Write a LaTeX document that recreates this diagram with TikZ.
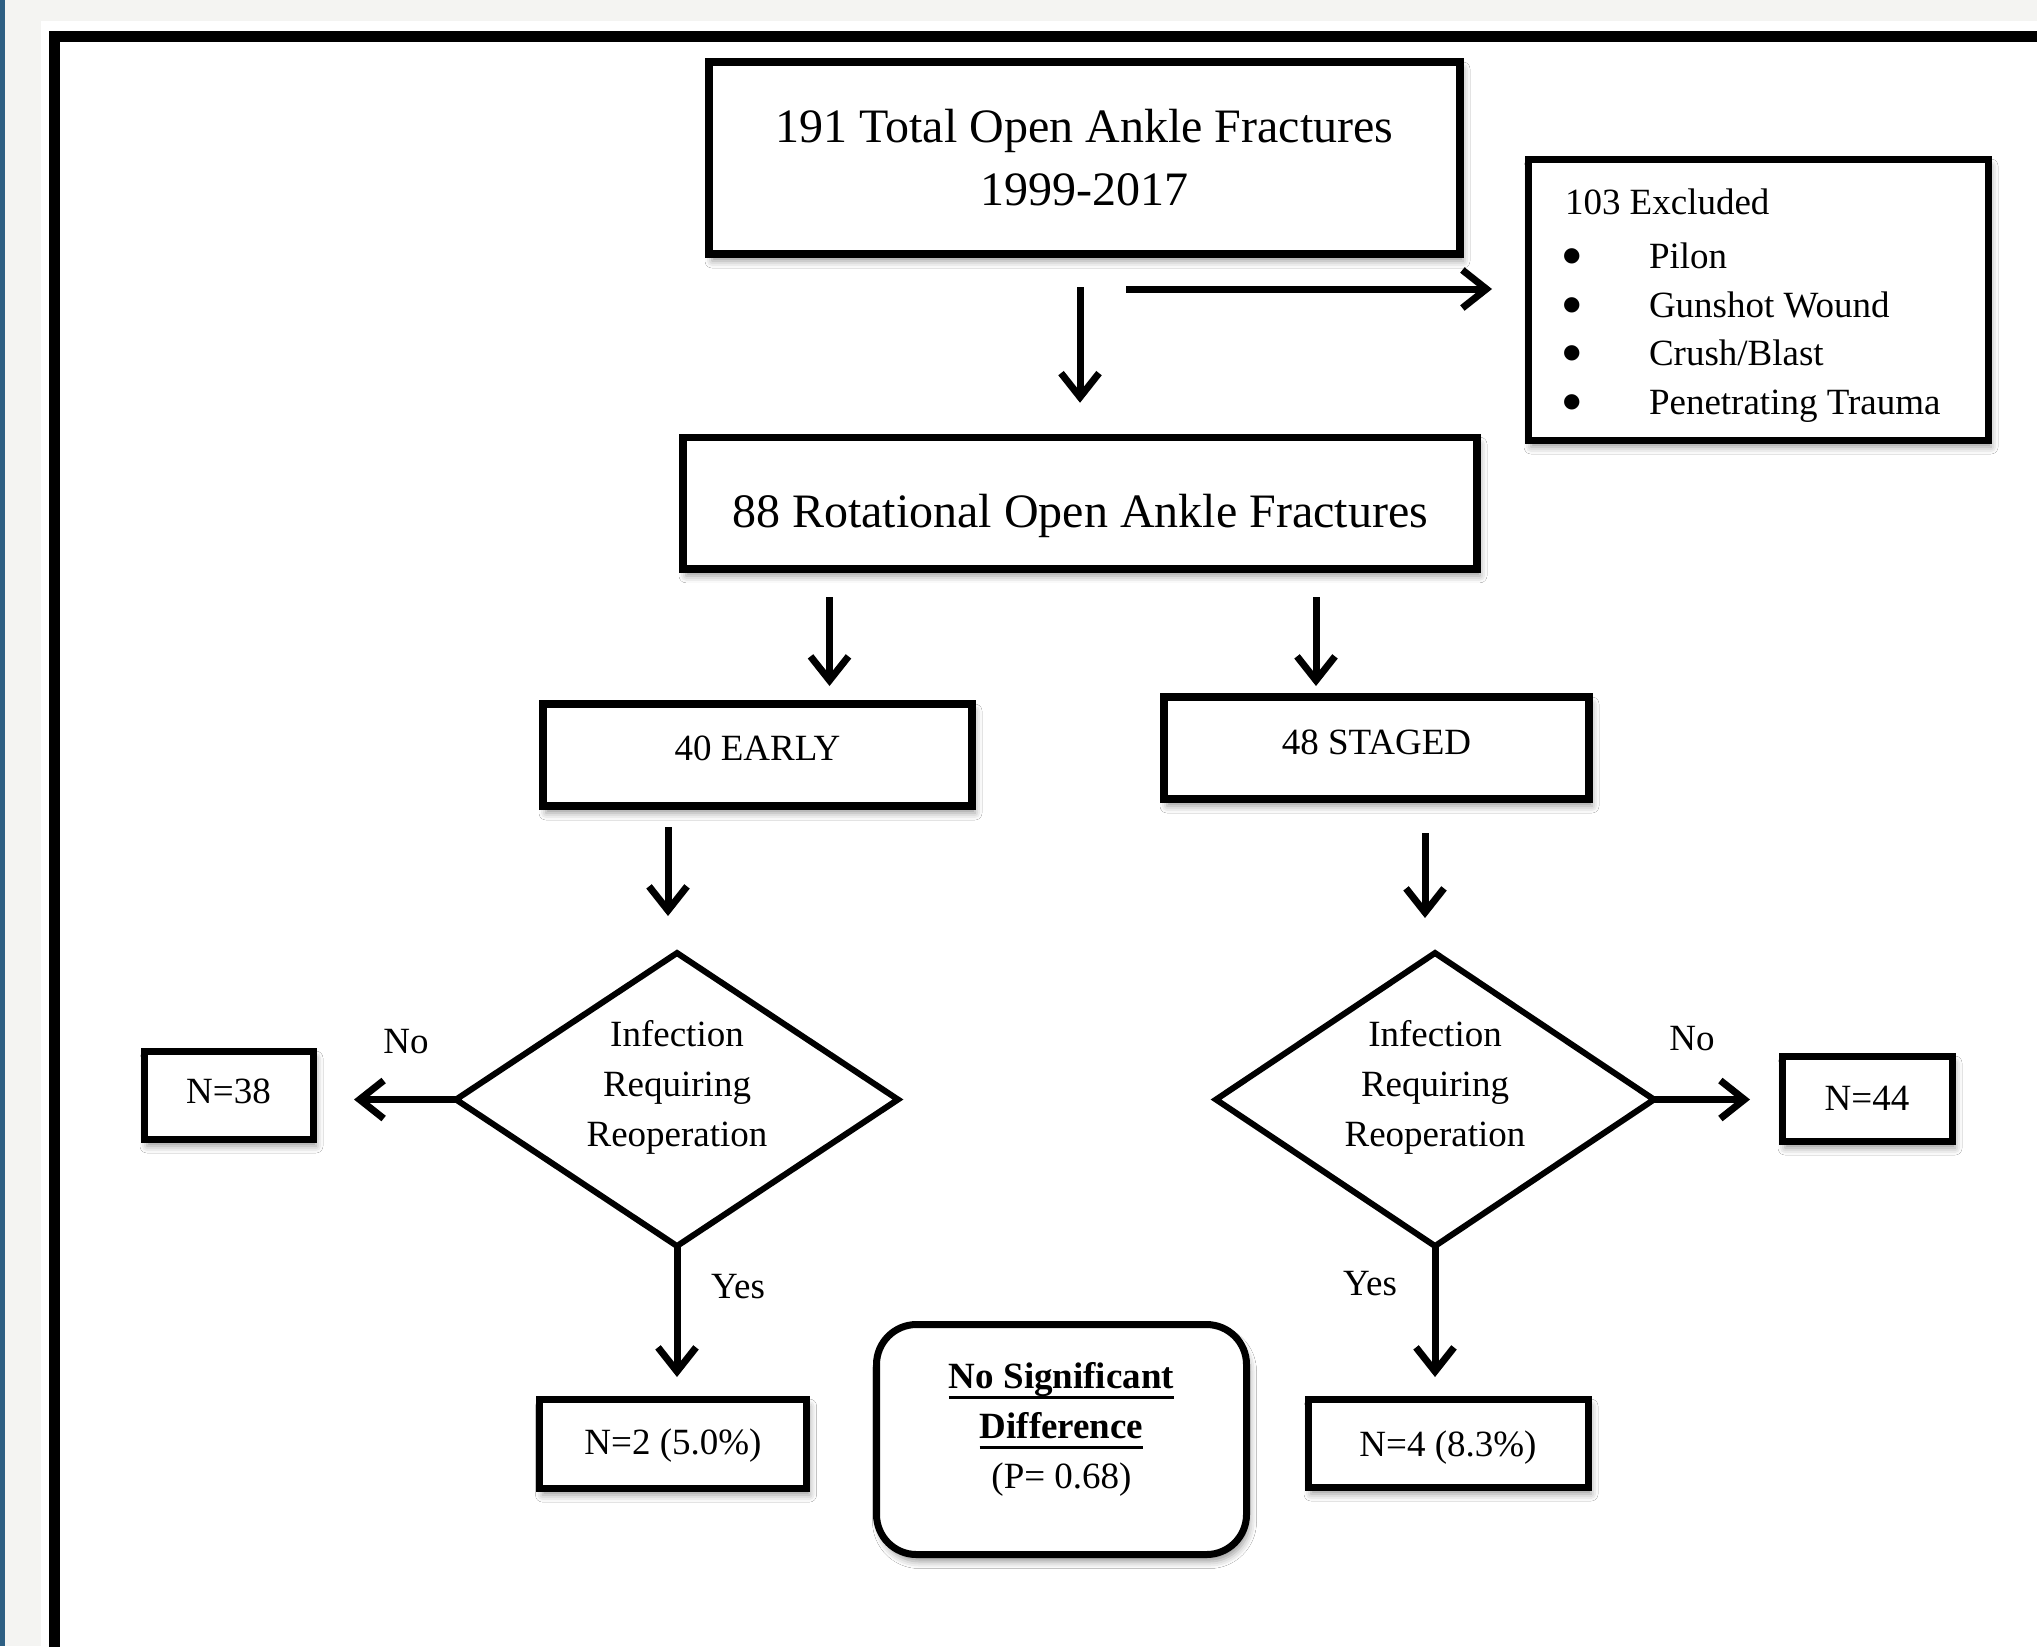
\documentclass[tikz,border=0pt]{standalone}
\usepackage{fontspec}
\setmainfont{Liberation Serif}
\newfontfamily\dejavu{DejaVu Sans}
\usetikzlibrary{arrows.meta,shapes.geometric,shadows.blur}
\definecolor{bggrey}{HTML}{F4F4F2}
\definecolor{stripblue}{HTML}{2D5F83}
% raised text block: #1 raise, #2 column spec, #3 rows (baseline = last row)
\newcommand\bt[3]{\raisebox{#1}[0pt][0pt]{\begin{tabular}[b]{@{}#2@{}}#3\end{tabular}}}
\newcommand\ulx[1]{\setbox0\hbox{#1}\rlap{\copy0}\rule[-5.25pt]{\wd0}{1.25pt}}
\newcommand\bigbul{\makebox[43pt][l]{\raisebox{3.5pt}{\dejavu\fontsize{10}{12}\selectfont ●}}}
\tikzset{
  every node/.style={outer sep=0pt, inner sep=0pt},
  shadowed/.style={blur shadow={shadow xshift=1.5pt, shadow yshift=-3.5pt, shadow blur radius=3.5pt, shadow opacity=40}},
  box/.style={draw, fill=white, line width=3.75pt, rectangle, shadowed, font=\fontsize{18.5}{25}\selectfont},
  bigbox/.style={box, font=\fontsize{24}{31.5}\selectfont},
  decision/.style={draw, fill=white, line width=3pt, diamond, font=\fontsize{18.5}{25}\selectfont},
  roundbox/.style={box, rounded corners=20pt},
  lbl/.style={anchor=base, font=\fontsize{18.5}{25}\selectfont},
  arr/.style={line width=3.5pt, -{Straight Barb[length=12pt, width=19pt, line width=3.5pt]}}
}
\begin{document}
\begin{tikzpicture}[x=0.5pt, y=-0.5pt]
  \useasboundingbox (0,0) rectangle (2037,1646);
  \clip (0,0) rectangle (2037,1646);
  % background and frame
  \fill[bggrey] (0,0) rectangle (2037,1646);
  \fill[stripblue] (0,0) rectangle (5,1646);
  \fill[white] (41,21) rectangle (2037,1646);
  \draw[line width=5.5pt] (54,36.5) rectangle (2120,1720);

  % boxes
  \node[bigbox, minimum width=375.5pt, minimum height=96pt] (top) at (1084.5,158)
    {\bt{-23.5pt}{c}{191 Total Open Ankle Fractures\\1999-2017}};
  \node[box, line width=3.5pt, minimum width=230pt, minimum height=140.5pt, font=\fontsize{18.5}{24.25}\selectfont] (excl) at (1758,299.5)
    {\raisebox{-57.25pt}[0pt][0pt]{\makebox[230pt][l]{\hspace{17.5pt}\begin{tabular}[b]{@{}l@{}}\hspace{1pt}103 Excluded\\[2.75pt]
      \bigbul Pilon\\
      \bigbul Gunshot Wound\\
      \bigbul Crush/Blast\\
      \bigbul Penetrating Trauma\end{tabular}}}};
  \node[bigbox, minimum width=397pt, minimum height=65.75pt] (rot) at (1080,503)
    {\bt{-12pt}{c}{88 Rotational Open Ankle Fractures}};
  \node[box, minimum width=214.5pt, minimum height=51pt] (early) at (757.5,755)
    {\bt{-2.5pt}{c}{40 EARLY}};
  \node[box, minimum width=212.5pt, minimum height=51pt] (staged) at (1376.5,748)
    {\bt{-3pt}{c}{48 STAGED}};
  \node[decision, minimum width=221pt, minimum height=146.5pt] (dL) at (677,1099.5)
    {\bt{-23.5pt}{c}{Infection\\Requiring\\Reoperation}};
  \node[decision, minimum width=219pt, minimum height=146.5pt] (dR) at (1435,1099.5)
    {\bt{-23.5pt}{c}{Infection\\Requiring\\Reoperation}};
  \node[box, line width=3.5pt, minimum width=84.5pt, minimum height=44pt] (n38) at (228.5,1095)
    {\bt{-4pt}{c}{N=38}};
  \node[box, line width=3.5pt, minimum width=85pt, minimum height=42.5pt] (n44) at (1867,1098.5)
    {\bt{-5.75pt}{c}{N=44}};
  \node[box, line width=3.5pt, minimum width=133.5pt, minimum height=44.5pt] (n2) at (673,1443.5)
    {\bt{-5.25pt}{c}{N=2 (5.0\%)}};
  \node[box, line width=3.5pt, minimum width=140pt, minimum height=44pt] (n4) at (1448,1443)
    {\bt{-6.5pt}{c}{N=4 (8.3\%)}};
  \node[roundbox, line width=3.5pt, minimum width=185pt, minimum height=115pt] (nsd) at (1061.5,1439.5)
    {\bt{-24.25pt}{c}{\ulx{\textbf{No Significant}}\\\ulx{\textbf{Difference}}\\(P= 0.68)}};

  % labels
  \node[lbl] (noL) at (406,1053) {No};
  \node[lbl] (noR) at (1692,1050) {No};
  \node[lbl] (yesL) at (738,1298) {Yes};
  \node[lbl] (yesR) at (1370,1295) {Yes};

  % connectors
  \coordinate (c1) at (1126,289);
  \coordinate (c2) at (1080,287);
  \coordinate (c3) at (829.5,597);
  \coordinate (c4) at (1316,597);
  \coordinate (c5) at (668,827);
  \coordinate (c6) at (1425,833);
  \draw[arr, shorten >=18pt] (c1) -- (c1 -| excl.west);
  \draw[arr, shorten >=17.25pt] (c2) -- (c2 |- rot.north);
  \draw[arr, shorten >=9pt] (c3) -- (c3 |- early.north);
  \draw[arr, shorten >=5.5pt] (c4) -- (c4 |- staged.north);
  \draw[arr, shorten >=18.5pt] (c5) -- (c5 |- dL.north);
  \draw[arr, shorten >=17.5pt] (c6) -- (c6 |- dR.north);
  \draw[arr, shorten >=20.5pt] (dL.west) -- (dL.west -| n38.east);
  \draw[arr, shorten >=16pt] (dR.east) -- (dR.east -| n44.west);
  \draw[arr, shorten >=11pt] (dL.south) -- (dL.south |- n2.north);
  \draw[arr, shorten >=11pt] (dR.south) -- (dR.south |- n4.north);
\end{tikzpicture}
\end{document}
